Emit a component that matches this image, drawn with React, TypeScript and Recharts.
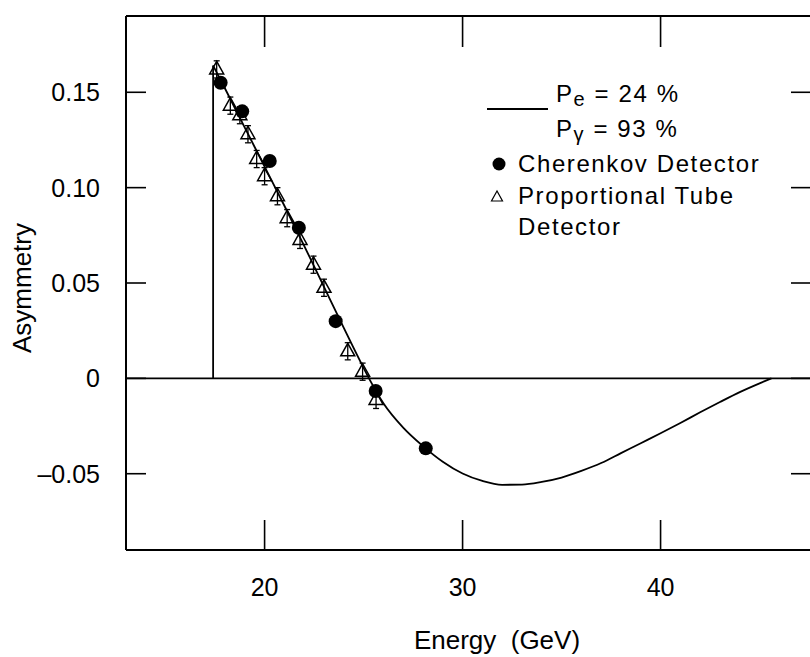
import React from 'react';
import { ComposedChart, Line, Scatter, XAxis, YAxis, ReferenceLine, ErrorBar } from 'recharts';

const FONT = '"Liberation Sans", Arial, Helvetica, sans-serif';

// axes
const energyTicks = [20, 30, 40];
const asymTicks = [-0.05, 0, 0.05, 0.1, 0.15];
const asymTickLabels: Record<string, string> = { '-0.05': '–0.05', '0': '0', '0.05': '0.05', '0.1': '0.10', '0.15': '0.15' };

// theory curve (Pe = 24 %, Pγ = 93 %)
const curveEnergy = [17.4, 18, 19, 20, 21, 22, 23, 24, 25, 25.3, 26, 27, 28, 29, 30, 31, 32, 33, 34, 35, 36, 37, 38, 39, 40, 41, 42, 43, 44, 45, 45.6];
const curveAsym = [0.164, 0.152, 0.1315, 0.111, 0.0905, 0.0695, 0.048, 0.0265, 0.0055, -0.0005, -0.013, -0.0258, -0.0355, -0.0437, -0.0499, -0.0538, -0.0558, -0.0557, -0.0543, -0.052, -0.0485, -0.0444, -0.0392, -0.034, -0.0288, -0.0234, -0.0178, -0.0124, -0.0072, -0.0026, 0];

// kinematic edge of the curve
const edgeEnergy = [17.4, 17.4];
const edgeAsym = [0, 0.164];

// measurements
const cherenkovEnergy = [17.78, 18.87, 20.26, 21.73, 23.59, 25.61, 28.14];
const cherenkovAsym = [0.155, 0.14, 0.114, 0.079, 0.03, -0.0066, -0.0367];
const cherenkovErr = [0.003, 0.003, 0.003, 0.003, 0.003, 0.003, 0.003];

const tubeEnergy = [17.58, 18.27, 18.75, 19.16, 19.6, 20.0, 20.65, 21.14, 21.79, 22.47, 23.0, 24.2, 24.95, 25.63];
const tubeAsym = [0.162, 0.143, 0.138, 0.128, 0.115, 0.106, 0.0955, 0.084, 0.0726, 0.0596, 0.0475, 0.0142, 0.0035, -0.0113];
const tubeErr = [0.0045, 0.0045, 0.0045, 0.0045, 0.0045, 0.0045, 0.0045, 0.0045, 0.0045, 0.0045, 0.0045, 0.0045, 0.0045, 0.0045];

const curveData = curveEnergy.map((e, i) => ({ e, a: curveAsym[i] }));
const edgeData = edgeEnergy.map((e, i) => ({ e, a: edgeAsym[i] }));
const cherenkovData = cherenkovEnergy.map((e, i) => ({ e, a: cherenkovAsym[i], err: cherenkovErr[i] }));
const tubeData = tubeEnergy.map((e, i) => ({ e, a: tubeAsym[i], err: tubeErr[i] }));

const BottomTick = (props: any) => {
  const { x, y, payload } = props;
  return (
    <g>
      <line x1={x} y1={y} x2={x} y2={y - 30} stroke="#000" strokeWidth={1.6} />
      <text x={x} y={y + 46} textAnchor="middle" fontSize={25} fontFamily={FONT} fill="#000">
        {payload.value}
      </text>
    </g>
  );
};

const TopTick = (props: any) => {
  const { x, y } = props;
  return <line x1={x} y1={y} x2={x} y2={y + 31} stroke="#000" strokeWidth={1.6} />;
};

const LeftTick = (props: any) => {
  const { x, y, payload } = props;
  return (
    <g>
      <line x1={x} y1={y} x2={x + 20} y2={y} stroke="#000" strokeWidth={1.6} />
      <text x={x - 26} y={y + 9} textAnchor="end" fontSize={25} fontFamily={FONT} fill="#000">
        {asymTickLabels[String(payload.value)]}
      </text>
    </g>
  );
};

const RightTick = (props: any) => {
  const { x, y } = props;
  return <line x1={x} y1={y} x2={x - 24} y2={y} stroke="#000" strokeWidth={1.6} />;
};

const XTitle = (props: any) => {
  const { viewBox } = props;
  return (
    <text x={viewBox.x + 371} y={viewBox.y + 99} textAnchor="middle" fontSize={26} fontFamily={FONT} fill="#000" style={{ whiteSpace: 'pre' }}>
      {'Energy  (GeV)'}
    </text>
  );
};

const YTitle = (props: any) => {
  const { viewBox } = props;
  const cx = viewBox.x + 31;
  const cy = 288;
  return (
    <text x={cx} y={cy} transform={`rotate(-90 ${cx} ${cy})`} textAnchor="middle" fontSize={26} fontFamily={FONT} fill="#000">
      Asymmetry
    </text>
  );
};

const Dot = (props: any) => <circle cx={props.cx} cy={props.cy} r={7} fill="#000" />;

const Tri = (props: any) => {
  const { cx, cy } = props;
  return (
    <polygon
      points={`${cx},${cy - 8} ${cx - 7},${cy + 4.5} ${cx + 7},${cy + 4.5}`}
      fill="none"
      stroke="#000"
      strokeWidth={1.5}
    />
  );
};

const ChartLegend = () => (
  <svg width={810} height={657} style={{ position: 'absolute', left: 0, top: 0, pointerEvents: 'none' }}>
    <g fontFamily={FONT} fontSize={24} fill="#000" letterSpacing={1.6}>
      <line x1={487} y1={109} x2={548} y2={109} stroke="#000" strokeWidth={1.8} />
      <text x={556} y={102}>
        P<tspan fontSize={20} dy={4}>e</tspan>
        <tspan dy={-4}> = 24 %</tspan>
      </text>
      <text x={556} y={137}>
        P<tspan fontSize={20} dy={4}>γ</tspan>
        <tspan dy={-4}> = 93 %</tspan>
      </text>
      <circle cx={499} cy={164} r={6.5} fill="#000" />
      <text x={518} y={172}>Cherenkov Detector</text>
      <polygon points="497,191 491.5,201 502.5,201" fill="none" stroke="#000" strokeWidth={1.2} />
      <text x={518} y={204}>Proportional Tube</text>
      <text x={518} y={235}>Detector</text>
    </g>
  </svg>
);

export default function App() {
  return (
    <div style={{ position: 'absolute', left: 0, top: 0, width: 810, height: 657, overflow: 'hidden', background: '#fff' }}>
      <ComposedChart width={830} height={657} margin={{ top: 15, right: 14, bottom: 0, left: 0 }}>
        <XAxis
          xAxisId="bottom"
          dataKey="e"
          type="number"
          domain={[13, 47.8]}
          ticks={energyTicks}
          height={107}
          tickSize={0}
          tickMargin={0}
          tickLine={false}
          axisLine={{ stroke: '#000', strokeWidth: 2 }}
          tick={<BottomTick />}
          allowDataOverflow
          label={<XTitle />}
        />
        <XAxis
          xAxisId="top"
          orientation="top"
          dataKey="e"
          type="number"
          domain={[13, 47.8]}
          ticks={energyTicks}
          height={1}
          tickSize={0}
          tickMargin={0}
          tickLine={false}
          axisLine={{ stroke: '#000', strokeWidth: 2 }}
          tick={<TopTick />}
          allowDataOverflow
        />
        <YAxis
          yAxisId="left"
          type="number"
          domain={[-0.09, 0.19]}
          ticks={asymTicks}
          width={126}
          tickSize={0}
          tickMargin={0}
          tickLine={false}
          axisLine={{ stroke: '#000', strokeWidth: 2 }}
          tick={<LeftTick />}
          allowDataOverflow
          label={<YTitle />}
        />
        <YAxis
          yAxisId="right"
          orientation="right"
          type="number"
          domain={[-0.09, 0.19]}
          ticks={asymTicks}
          width={1}
          tickSize={0}
          tickMargin={0}
          tickLine={false}
          axisLine={{ stroke: '#000', strokeWidth: 2 }}
          tick={<RightTick />}
          allowDataOverflow
        />
        {/* the top and right axes only carry the frame and inward ticks */}
        <Line
          xAxisId="top"
          yAxisId="right"
          data={edgeData}
          dataKey="a"
          stroke="none"
          dot={false}
          activeDot={false}
          isAnimationActive={false}
        />
        <ReferenceLine xAxisId="bottom" yAxisId="left" y={0} stroke="#000" strokeWidth={1.8} />
        <Line
          xAxisId="bottom"
          yAxisId="left"
          data={edgeData}
          dataKey="a"
          type="linear"
          stroke="#000"
          strokeWidth={1.8}
          dot={false}
          isAnimationActive={false}
        />
        <Line
          xAxisId="bottom"
          yAxisId="left"
          data={curveData}
          dataKey="a"
          type="monotone"
          stroke="#000"
          strokeWidth={1.8}
          dot={false}
          isAnimationActive={false}
        />
        <Scatter xAxisId="bottom" yAxisId="left" data={tubeData} dataKey="a" shape={<Tri />} isAnimationActive={false}>
          <ErrorBar dataKey="err" direction="y" width={3} stroke="#000" strokeWidth={1.3} />
        </Scatter>
        <Scatter xAxisId="bottom" yAxisId="left" data={cherenkovData} dataKey="a" shape={<Dot />} isAnimationActive={false}>
          <ErrorBar dataKey="err" direction="y" width={0} stroke="#000" strokeWidth={1.3} />
        </Scatter>
      </ComposedChart>
      <ChartLegend />
    </div>
  );
}
